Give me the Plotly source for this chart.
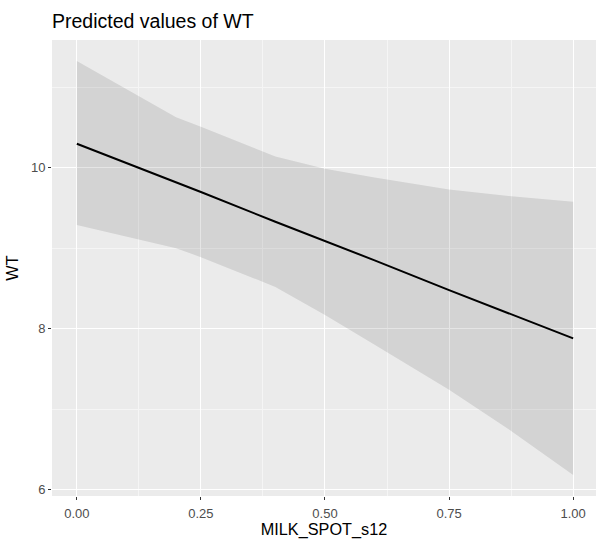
import plotly.graph_objects as go

# Predicted WT across MILK_SPOT_s12 with 95% confidence band
milk_spot = [0.0, 0.2, 0.25, 0.4, 0.5, 0.6, 0.75, 0.87, 1.0]
predicted = [10.30, 9.82, 9.70, 9.33, 9.09, 8.85, 8.48, 8.19, 7.88]
conf_high = [11.33, 10.63, 10.51, 10.14, 9.99, 9.88, 9.73, 9.65, 9.58]
conf_low = [9.29, 9.00, 8.89, 8.52, 8.17, 7.80, 7.24, 6.75, 6.18]

x_ticks = [0.0, 0.25, 0.5, 0.75, 1.0]
x_tick_text = ["0.00", "0.25", "0.50", "0.75", "1.00"]
y_ticks = [6, 8, 10]
y_tick_text = ["6", "8", "10"]

FONT = "Liberation Sans, Arial, sans-serif"

fig = go.Figure()

# Confidence ribbon
fig.add_trace(go.Scatter(
    x=milk_spot + milk_spot[::-1],
    y=conf_high + conf_low[::-1],
    fill="toself",
    fillcolor="rgba(0,0,0,0.10)",
    line=dict(width=0),
    mode="lines",
    hoverinfo="skip",
    showlegend=False,
))

# Prediction line
fig.add_trace(go.Scatter(
    x=milk_spot,
    y=predicted,
    mode="lines",
    line=dict(color="black", width=2),
    showlegend=False,
))

axis_common = dict(
    showgrid=True,
    gridcolor="white",
    gridwidth=1.1,
    zeroline=False,
    showline=False,
    ticks="outside",
    ticklen=3,
    tickwidth=1,
    tickcolor="#333333",
    tickfont=dict(family=FONT, size=13, color="#4D4D4D"),
)

fig.update_layout(
    width=596,
    height=539,
    margin=dict(l=52, r=0, t=40, b=43),
    paper_bgcolor="white",
    plot_bgcolor="#EBEBEB",
    title=dict(
        text="Predicted values of WT",
        x=52 / 596,
        xanchor="left",
        y=1 - 21 / 539,
        yanchor="middle",
        font=dict(family=FONT, size=19.5, color="black"),
    ),
    xaxis=dict(
        range=[-0.05, 1.046],
        tickvals=x_ticks,
        ticktext=x_tick_text,
        ticklabelstandoff=2,
        minor=dict(dtick=0.125, tick0=0, showgrid=True, gridcolor="#F5F5F5", gridwidth=0.6, ticks=""),
        title=dict(text="MILK_SPOT_s12", font=dict(family=FONT, size=16.25, color="black"), standoff=6),
        **axis_common,
    ),
    yaxis=dict(
        range=[5.92, 11.59],
        tickvals=y_ticks,
        ticktext=y_tick_text,
        minor=dict(dtick=1, tick0=6, showgrid=True, gridcolor="#F5F5F5", gridwidth=0.6, ticks=""),
        title=dict(text="WT", font=dict(family=FONT, size=16.25, color="black"), standoff=8),
        **axis_common,
    ),
)

fig.write_html("out.html")
